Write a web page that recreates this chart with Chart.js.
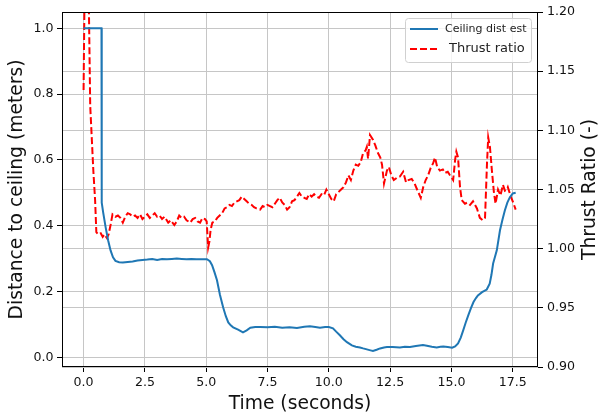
<!DOCTYPE html>
<html>
<head>
<meta charset="utf-8">
<script src="https://cdn.jsdelivr.net/npm/chart.js@4/dist/chart.umd.min.js"></script>
<style>
  html, body { margin: 0; padding: 0; background: #fff; }
  #wrap { width: 600px; height: 415px; position: relative; }
</style>
</head>
<body>
<div id="wrap"><canvas id="c" width="600" height="415"></canvas></div>
<script>
// Ceiling distance estimate (left axis, metres) over time (s)
const ceilTime = [0.00,0.73,0.74,0.80,0.90,1.00,1.10,1.20,1.30,1.45,1.60,1.80,2.00,2.20,2.40,2.60,2.80,3.00,3.20,3.40,3.60,3.80,4.00,4.20,4.40,4.60,4.80,5.03,5.15,5.24,5.34,5.44,5.56,5.69,5.80,5.90,6.00,6.10,6.30,6.50,6.65,6.80,7.00,7.20,7.50,7.80,8.10,8.40,8.70,9.00,9.23,9.45,9.64,9.85,10.00,10.17,10.30,10.45,10.60,10.74,10.94,11.10,11.27,11.40,11.55,11.70,11.80,11.95,12.09,12.25,12.37,12.60,12.90,13.10,13.31,13.55,13.84,14.00,14.20,14.40,14.55,14.67,14.85,15.03,15.15,15.27,15.38,15.48,15.58,15.69,15.80,15.90,16.00,16.08,16.25,16.44,16.56,16.63,16.70,16.85,16.98,17.08,17.18,17.28,17.38,17.50,17.62];
const ceilDist = [1.0,1.0,0.47,0.44,0.395,0.356,0.325,0.304,0.293,0.289,0.288,0.290,0.291,0.294,0.296,0.297,0.299,0.296,0.299,0.298,0.299,0.300,0.299,0.298,0.299,0.298,0.298,0.298,0.292,0.280,0.258,0.234,0.190,0.152,0.125,0.106,0.097,0.091,0.084,0.076,0.082,0.090,0.092,0.092,0.091,0.093,0.090,0.091,0.089,0.093,0.094,0.092,0.090,0.092,0.092,0.088,0.078,0.067,0.055,0.046,0.036,0.032,0.030,0.027,0.024,0.021,0.019,0.023,0.027,0.030,0.031,0.031,0.030,0.032,0.031,0.034,0.037,0.035,0.032,0.030,0.032,0.033,0.031,0.029,0.033,0.042,0.060,0.082,0.105,0.128,0.150,0.168,0.180,0.188,0.198,0.206,0.224,0.250,0.285,0.325,0.386,0.418,0.447,0.470,0.486,0.498,0.500];

// Thrust ratio (right axis, dimensionless) over time (s)
const thrustTime = [0.00,0.08,0.18,0.27,0.40,0.47,0.52,0.60,0.70,0.78,0.85,0.95,1.02,1.10,1.18,1.30,1.40,1.50,1.60,1.70,1.80,1.90,2.00,2.10,2.20,2.30,2.40,2.50,2.60,2.70,2.80,2.90,3.00,3.10,3.20,3.30,3.45,3.55,3.70,3.80,3.90,4.00,4.10,4.20,4.35,4.45,4.55,4.65,4.75,4.85,4.95,5.02,5.08,5.13,5.18,5.25,5.35,5.45,5.55,5.65,5.75,5.85,5.95,6.05,6.15,6.25,6.35,6.45,6.55,6.65,6.75,6.85,6.95,7.05,7.20,7.30,7.40,7.50,7.60,7.70,7.80,7.90,8.00,8.10,8.20,8.30,8.40,8.50,8.60,8.70,8.80,8.90,9.00,9.10,9.20,9.30,9.40,9.50,9.60,9.70,9.80,9.90,10.00,10.10,10.20,10.30,10.40,10.50,10.60,10.70,10.80,10.90,11.00,11.10,11.20,11.30,11.40,11.50,11.55,11.60,11.68,11.80,11.90,12.00,12.10,12.17,12.25,12.37,12.45,12.55,12.65,12.78,12.90,13.03,13.15,13.25,13.38,13.50,13.60,13.75,13.85,13.95,14.05,14.15,14.25,14.33,14.42,14.53,14.65,14.74,14.85,14.94,15.07,15.15,15.20,15.27,15.35,15.42,15.55,15.65,15.76,15.88,15.96,16.04,16.16,16.28,16.37,16.45,16.50,16.57,16.65,16.73,16.80,16.90,17.00,17.10,17.18,17.26,17.30,17.42,17.50,17.62];
const thrustRatio = [1.134,1.30,1.26,1.121,1.065,1.041,1.014,1.012,1.013,1.010,1.012,1.009,1.012,1.020,1.029,1.027,1.028,1.026,1.022,1.027,1.030,1.029,1.027,1.028,1.026,1.029,1.025,1.027,1.029,1.026,1.028,1.030,1.027,1.028,1.025,1.027,1.022,1.024,1.020,1.023,1.028,1.026,1.027,1.024,1.022,1.025,1.026,1.023,1.022,1.026,1.025,1.023,1.001,1.006,1.016,1.022,1.023,1.026,1.028,1.030,1.034,1.035,1.037,1.036,1.039,1.040,1.041,1.044,1.042,1.040,1.038,1.037,1.035,1.034,1.033,1.036,1.035,1.037,1.036,1.035,1.038,1.041,1.043,1.039,1.037,1.033,1.035,1.040,1.041,1.044,1.047,1.044,1.043,1.042,1.046,1.044,1.046,1.044,1.043,1.046,1.045,1.050,1.046,1.042,1.040,1.046,1.048,1.050,1.052,1.056,1.062,1.058,1.066,1.071,1.070,1.073,1.081,1.083,1.086,1.076,1.096,1.092,1.087,1.081,1.077,1.071,1.055,1.066,1.069,1.062,1.058,1.060,1.061,1.065,1.056,1.058,1.059,1.055,1.050,1.043,1.052,1.058,1.062,1.068,1.072,1.077,1.069,1.066,1.067,1.064,1.065,1.062,1.058,1.075,1.082,1.077,1.052,1.041,1.038,1.039,1.037,1.040,1.037,1.034,1.026,1.024,1.026,1.072,1.094,1.086,1.066,1.048,1.038,1.050,1.045,1.054,1.049,1.050,1.052,1.044,1.040,1.033];

const seriesNames = ['Ceiling dist est', 'Thrust ratio'];
const axisTitles = { x: 'Time (seconds)', left: 'Distance to ceiling (meters)', right: 'Thrust Ratio (-)' };

const FONT = "'DejaVu Sans', sans-serif";
const BLUE = '#1f77b4';
const RED = '#ff0000';
const GRID = '#c6c6c6';

const toPoints = (xs, ys) => xs.map((x, i) => ({ x: x, y: ys[i] }));

// Frame around the plotting area, right-hand axis title, and a legend with two text sizes
const framePlugin = {
  id: 'frame',
  afterDatasetsDraw(chart) {
    const { ctx, chartArea: a } = chart;
    ctx.save();
    ctx.strokeStyle = '#000';
    ctx.lineWidth = 1;
    ctx.strokeRect(Math.round(a.left) + 0.5, Math.round(a.top) + 0.5,
                   Math.round(a.right - a.left) - 1, Math.round(a.bottom - a.top) - 1);

    // right-hand axis title, reading bottom to top
    ctx.save();
    ctx.translate(590.5, (a.top + a.bottom) / 2);
    ctx.rotate(-Math.PI / 2);
    ctx.fillStyle = '#111';
    ctx.font = '18.7px ' + FONT;
    ctx.textAlign = 'center';
    ctx.textBaseline = 'middle';
    ctx.fillText(axisTitles.right, 0, 0);
    ctx.restore();

    // legend box
    const bx = 405.5, by = 18.5, bw = 126, bh = 44, r = 3;
    ctx.beginPath();
    ctx.moveTo(bx + r, by);
    ctx.lineTo(bx + bw - r, by);
    ctx.quadraticCurveTo(bx + bw, by, bx + bw, by + r);
    ctx.lineTo(bx + bw, by + bh - r);
    ctx.quadraticCurveTo(bx + bw, by + bh, bx + bw - r, by + bh);
    ctx.lineTo(bx + r, by + bh);
    ctx.quadraticCurveTo(bx, by + bh, bx, by + bh - r);
    ctx.lineTo(bx, by + r);
    ctx.quadraticCurveTo(bx, by, bx + r, by);
    ctx.closePath();
    ctx.fillStyle = 'rgba(255,255,255,0.8)';
    ctx.fill();
    ctx.strokeStyle = '#d0d0d0';
    ctx.lineWidth = 1;
    ctx.stroke();

    ctx.lineWidth = 2;
    ctx.strokeStyle = BLUE;
    ctx.setLineDash([]);
    ctx.beginPath(); ctx.moveTo(410, 29); ctx.lineTo(438, 29); ctx.stroke();
    ctx.strokeStyle = RED;
    ctx.setLineDash([7, 3]);
    ctx.beginPath(); ctx.moveTo(410, 49); ctx.lineTo(438, 49); ctx.stroke();
    ctx.setLineDash([]);

    ctx.fillStyle = '#222';
    ctx.textBaseline = 'middle';
    ctx.textAlign = 'left';
    ctx.font = '11px ' + FONT;
    ctx.fillText(seriesNames[0], 445, 29);
    ctx.font = '13px ' + FONT;
    ctx.fillText(seriesNames[1], 449, 49);
    ctx.restore();
  }
};

new Chart(document.getElementById('c'), {
  type: 'line',
  data: {
    datasets: [
      {
        label: seriesNames[0],
        data: toPoints(ceilTime, ceilDist),
        yAxisID: 'y',
        borderColor: BLUE,
        borderWidth: 2,
        pointRadius: 0,
        tension: 0,
        fill: false
      },
      {
        label: seriesNames[1],
        data: toPoints(thrustTime, thrustRatio),
        yAxisID: 'y1',
        borderColor: RED,
        borderWidth: 2,
        borderDash: [7, 3],
        pointRadius: 0,
        tension: 0,
        fill: false
      }
    ]
  },
  options: {
    responsive: false,
    animation: false,
    events: [],
    layout: { padding: { top: 12, left: 0, right: 0, bottom: 0 } },
    plugins: { legend: { display: false }, tooltip: { enabled: false } },
    scales: {
      x: {
        type: 'linear',
        min: -0.88,
        max: 18.53,
        afterFit(s) { s.height = 48; },
        ticks: {
          stepSize: 2.5,
          includeBounds: false,
          padding: 3,
          color: '#111',
          font: { family: FONT, size: 12.6 },
          maxRotation: 0,
          callback: v => Number(v).toFixed(1)
        },
        grid: { color: GRID, lineWidth: 1, tickLength: 5, tickColor: '#000', tickWidth: 1 },
        border: { display: false },
        title: {
          display: true,
          text: axisTitles.x,
          color: '#111',
          font: { family: FONT, size: 18.7, lineHeight: 1.0 },
          padding: { top: 0, bottom: 1.5 }
        }
      },
      y: {
        type: 'linear',
        position: 'left',
        min: -0.0295,
        max: 1.0496,
        afterFit(s) { s.width = 62; },
        ticks: {
          stepSize: 0.2,
          includeBounds: false,
          padding: 3.5,
          color: '#111',
          font: { family: FONT, size: 12.6 },
          callback: v => Number(v).toFixed(1)
        },
        grid: { color: GRID, lineWidth: 1, tickLength: 5, tickColor: '#000', tickWidth: 1 },
        border: { display: false },
        title: {
          display: true,
          text: axisTitles.left,
          color: '#111',
          font: { family: FONT, size: 18.7, lineHeight: 1.0 },
          padding: { top: 7.5, bottom: 0 }
        }
      },
      y1: {
        type: 'linear',
        position: 'right',
        min: 0.9,
        max: 1.2,
        afterFit(s) { s.width = 62; },
        ticks: {
          stepSize: 0.05,
          includeBounds: false,
          padding: 4,
          color: '#111',
          font: { family: FONT, size: 12.6 },
          callback: v => Number(v).toFixed(2)
        },
        grid: { color: GRID, lineWidth: 1, tickLength: 5, tickColor: '#000', tickWidth: 1 },
        border: { display: false },
        title: { display: false }
      }
    }
  },
  plugins: [framePlugin]
});
</script>
</body>
</html>
